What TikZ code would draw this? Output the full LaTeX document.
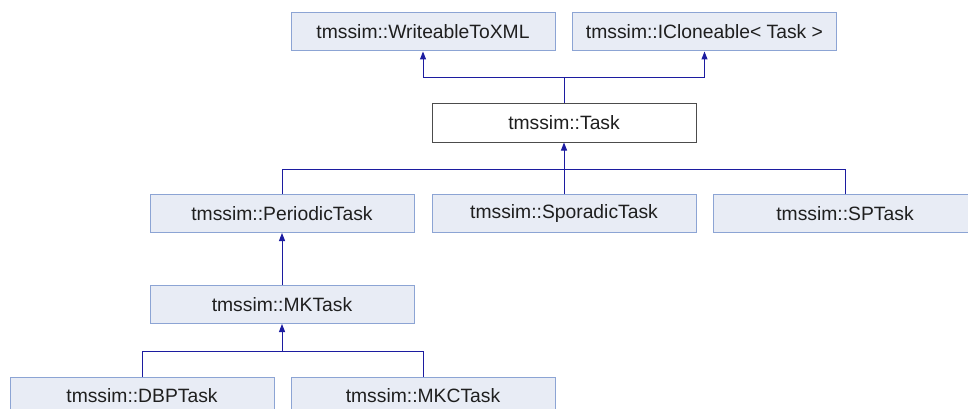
\documentclass[tikz,border=0pt]{standalone}
\usepackage{fontspec}
\setmainfont{Liberation Sans}
\usetikzlibrary{arrows.meta}
\definecolor{boxfill}{RGB}{232,236,245}
\definecolor{boxline}{RGB}{140,164,212}
\definecolor{edgeblue}{RGB}{28,28,160}
\begin{document}
\begin{tikzpicture}[x=1pt,y=-1pt,
  cls/.style={draw=boxline, fill=boxfill, line width=1pt,
    minimum width=264pt, minimum height=38pt, inner sep=0pt,
    font=\fontsize{19.3}{22}\selectfont, text=black!88},
  focus/.style={cls, fill=white, draw=black!70},
  inh/.style={draw=edgeblue, line width=1pt,
    -{Triangle[width=6pt,length=8pt]}},
  link/.style={draw=edgeblue, line width=1pt}]
\useasboundingbox (0,0) rectangle (968,409);
\clip (0,0) rectangle (968,409);

% class boxes
\node[cls]   (wx)   at (423,32)    {tmssim::WriteableToXML};
\node[cls]   (ic)   at (704.5,32)  {tmssim::ICloneable< Task >};
\node[focus] (task) at (564,123)   {tmssim::Task};
\node[cls]   (per)  at (282,213.5) {tmssim::PeriodicTask};
\node[cls]   (spo)  at (564,213.5) {tmssim::SporadicTask};
\node[cls]   (sp)   at (845,213.5) {tmssim::SPTask};
\node[cls]   (mk)   at (282,304.5) {tmssim::MKTask};
\node[cls]   (dbp)  at (142,396)   {tmssim::DBPTask};
\node[cls]   (mkc)  at (423,396)   {tmssim::MKCTask};

% rail heights of the inheritance connectors
\coordinate (r1) at (0,78);
\coordinate (r2) at (0,169);
\coordinate (r3) at (0,351);

% Task derives from both interfaces
\draw[inh] (task.north) -- (task.north |- r1) -| (wx.south);
\draw[inh] (task.north |- r1) -| (ic.south);

% subclasses of Task
\draw[inh] (per.north) -- (per.north |- r2) -| (task.south);
\draw[link] (spo.north) -- (spo.north |- r2);
\draw[link] (sp.north) -- (sp.north |- r2) -- (task.south |- r2);

% MKTask derives from PeriodicTask
\draw[inh] (mk.north) -- (per.south);

% subclasses of MKTask
\draw[inh] (dbp.north) -- (dbp.north |- r3) -| (mk.south);
\draw[link] (mkc.north) -- (mkc.north |- r3) -- (mk.south |- r3);
\end{tikzpicture}
\end{document}
